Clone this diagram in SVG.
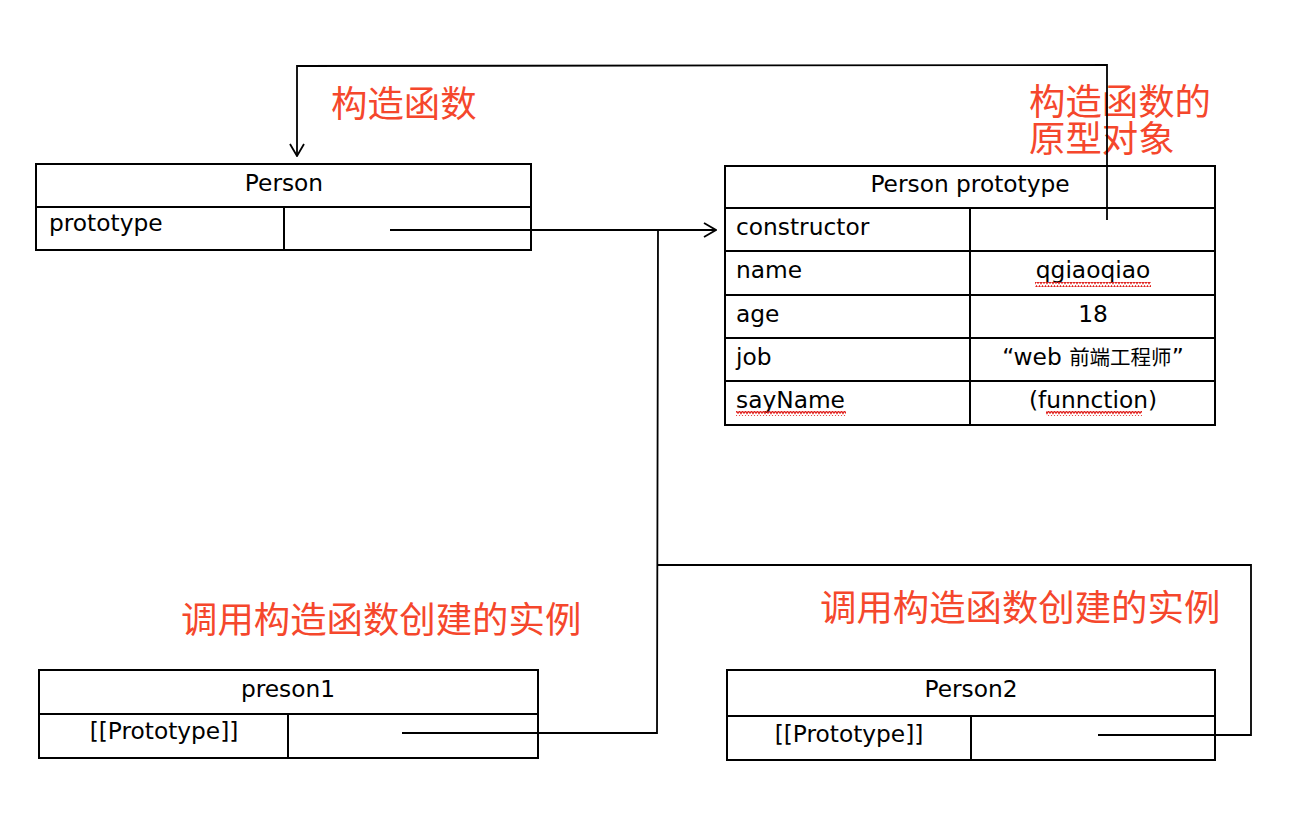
<svg xmlns="http://www.w3.org/2000/svg" width="1296" height="826" viewBox="0 0 1296 826">
<style>
.box{fill:#fff;stroke:#000;stroke-width:2}
.ln{stroke:#000;stroke-width:2;fill:none}
.t{font-family:"DejaVu Sans","Noto Sans CJK SC",sans-serif;font-size:23.3px;fill:#000}
.m{text-anchor:middle}
.red{font-family:"Noto Sans CJK SC",sans-serif;font-size:36.4px;fill:#f5472c}
.wave{stroke:#e0201c;stroke-width:1.3;fill:none}
.conn{stroke:#000;stroke-width:1.8;fill:none}
</style>
<defs>
<marker id="arr" viewBox="0 0 14 16" refX="13" refY="8" markerWidth="14" markerHeight="16" markerUnits="userSpaceOnUse" orient="auto">
<path d="M1,1 L13,8 L1,15" fill="none" stroke="#000" stroke-width="1.8"/>
</marker>
<pattern id="wv" width="6" height="5" patternUnits="userSpaceOnUse">
<path d="M0,3.5 L1.5,1 L3,3.5 L4.5,1 L6,3.5" class="wave"/>
</pattern>
</defs>
<rect width="1296" height="826" fill="#fff"/>

<g id="labels">
<text class="red" x="331" y="117">构造函数</text>
<text class="red" x="1029" y="115">构造函数的</text>
<text class="red" x="1029" y="152">原型对象</text>
<text class="red" x="181" y="633">调用构造函数创建的实例</text>
<text class="red" x="820" y="621">调用构造函数创建的实例</text>
</g>

<g id="person">
<rect class="box" x="36" y="164" width="495" height="86"/>
<line class="ln" x1="36" y1="207" x2="531" y2="207"/>
<line class="ln" x1="284" y1="207" x2="284" y2="250"/>
<text class="t m" x="284" y="191">Person</text>
<text class="t" x="49" y="231">prototype</text>
</g>

<g id="person-prototype">
<rect class="box" x="725" y="166" width="490" height="259"/>
<line class="ln" x1="725" y1="208" x2="1215" y2="208"/>
<line class="ln" x1="725" y1="251" x2="1215" y2="251"/>
<line class="ln" x1="725" y1="295" x2="1215" y2="295"/>
<line class="ln" x1="725" y1="338" x2="1215" y2="338"/>
<line class="ln" x1="725" y1="381" x2="1215" y2="381"/>
<line class="ln" x1="970" y1="208" x2="970" y2="425"/>
<text class="t m" x="970" y="192">Person prototype</text>
<text class="t" x="736" y="235">constructor</text>
<text class="t" x="736" y="278">name</text>
<text class="t m" x="1093" y="278">qgiaoqiao</text>
<text class="t" x="736" y="322">age</text>
<text class="t m" x="1093" y="322">18</text>
<text class="t" x="736" y="365">job</text>
<text class="t m" x="1093" y="365">“web  <tspan style="font-family:'Noto Sans CJK SC',sans-serif;font-size:20.5px">前端工程师</tspan>”</text>
<text class="t" x="736" y="408">sayName</text>
<text class="t m" x="1093" y="408">(funnction)</text>
<rect x="1035" y="282" width="116" height="5" fill="url(#wv)"/>
<rect x="736" y="411" width="110" height="5" fill="url(#wv)"/>
<rect x="1046" y="411" width="96" height="5" fill="url(#wv)"/>
</g>

<g id="preson1">
<rect class="box" x="39" y="670" width="499" height="88"/>
<line class="ln" x1="39" y1="714" x2="538" y2="714"/>
<line class="ln" x1="288" y1="714" x2="288" y2="758"/>
<text class="t m" x="288" y="697">preson1</text>
<text class="t m" x="164" y="739">[[Prototype]]</text>
</g>

<g id="person2">
<rect class="box" x="727" y="670" width="488" height="90"/>
<line class="ln" x1="727" y1="716" x2="1215" y2="716"/>
<line class="ln" x1="971" y1="716" x2="971" y2="760"/>
<text class="t m" x="971" y="697">Person2</text>
<text class="t m" x="849" y="742">[[Prototype]]</text>
</g>

<g id="connectors">
<polyline class="conn" points="1107,220 1107,65 297,66 297,156" marker-end="url(#arr)"/>
<polyline class="conn" points="390,230 716,230" marker-end="url(#arr)"/>
<polyline class="conn" points="402,733 657,733 658,230"/>
<polyline class="conn" points="658,565 1251,565 1251,735 1098,735"/>
</g>
</svg>
